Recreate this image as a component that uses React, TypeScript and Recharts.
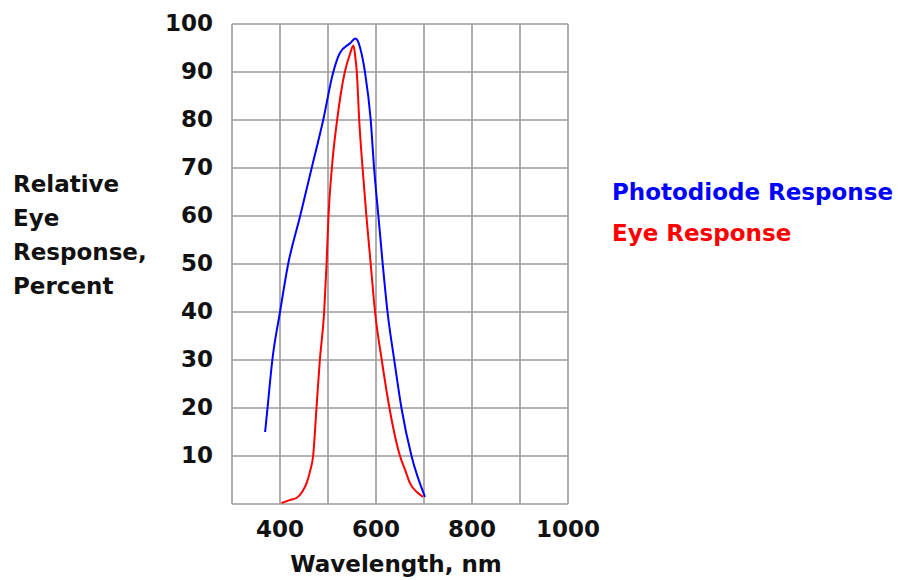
import React from "react";
import { LineChart, Line, XAxis, YAxis, CartesianGrid } from "recharts";

// Wavelength (nm) -> relative response (%)
const photodiodeWl = [369, 374, 384, 400, 417, 442, 466, 490, 511, 525, 546, 557, 562, 567, 577, 589, 596, 605, 614, 624, 638, 653, 674, 702];
const photodiodeVal = [15, 20, 30, 40, 50, 60, 70, 80, 90, 94, 96, 97, 96.5, 95, 90, 80, 70, 60, 50, 40, 30, 20, 10, 1.5];

const eyeWl = [403, 420, 435, 446, 456, 463, 469, 476, 483, 492, 497, 501, 508, 519, 535, 545, 553, 557, 560, 565, 572, 580, 589, 598, 612, 628, 650, 661, 671, 685, 698];
const eyeVal = [0.2, 0.8, 1.3, 2.5, 4.5, 7, 10, 20, 30, 40, 50, 60, 70, 80, 90, 93.5, 95.5, 93, 90, 80, 70, 60, 50, 40, 30, 20, 10, 7, 4.3, 2.5, 1.5];

const xGridTicks = [300, 400, 500, 600, 700, 800, 900, 1000];
const xLabelTicks = [400, 600, 800, 1000];
const yGridTicks = [0, 10, 20, 30, 40, 50, 60, 70, 80, 90, 100];
const yLabelTicks = [10, 20, 30, 40, 50, 60, 70, 80, 90, 100];

const seriesNames = ["Photodiode Response", "Eye Response"];
const seriesColors = ["#0000ff", "#ff0000"];
const yTitleLines = ["Relative", "Eye", "Response,", "Percent"];
const xTitle = "Wavelength, nm";

const photodiodeData = photodiodeWl.map((wl, i) => ({ wl, v: photodiodeVal[i] }));
const eyeData = eyeWl.map((wl, i) => ({ wl, v: eyeVal[i] }));

const FONT = "'DejaVu Sans', 'Liberation Sans', Arial, sans-serif";

const renderXTick = (props: any) => {
  const { x, y, payload } = props;
  if (!xLabelTicks.includes(payload.value)) return <g />;
  return (
    <text x={x} y={y + 33} textAnchor="middle" fontFamily={FONT} fontWeight="bold" fontSize={23} fill="#111">
      {payload.value}
    </text>
  );
};

const renderYTick = (props: any) => {
  const { x, y, payload } = props;
  if (!yLabelTicks.includes(payload.value)) return <g />;
  return (
    <text x={x - 19} y={y + 7} textAnchor="end" fontFamily={FONT} fontWeight="bold" fontSize={23} fill="#111">
      {payload.value}
    </text>
  );
};

export default function App() {
  return (
    <div style={{ position: "absolute", left: 0, top: 0, width: 898, height: 580, background: "#fff" }}>
      <LineChart width={898} height={580} margin={{ top: 24, left: 172, right: 330, bottom: 36 }}>
        <CartesianGrid stroke="#9a9a9a" strokeWidth={1.6} />
        <XAxis
          type="number"
          dataKey="wl"
          domain={[300, 1000]}
          ticks={xGridTicks}
          height={40}
          tickSize={0}
          tickMargin={0}
          axisLine={false}
          tickLine={false}
          tick={renderXTick}
          interval={0}
          allowDataOverflow
        />
        <YAxis
          type="number"
          domain={[0, 100]}
          ticks={yGridTicks}
          width={60}
          tickSize={0}
          tickMargin={0}
          axisLine={false}
          tickLine={false}
          tick={renderYTick}
          interval={0}
          allowDataOverflow
        />
        <Line data={photodiodeData} dataKey="v" type="monotone" stroke={seriesColors[0]} strokeWidth={2} dot={false} isAnimationActive={false} name={seriesNames[0]} />
        <Line data={eyeData} dataKey="v" type="monotone" stroke={seriesColors[1]} strokeWidth={2} dot={false} isAnimationActive={false} name={seriesNames[1]} />
      </LineChart>
      <svg width={898} height={580} style={{ position: "absolute", left: 0, top: 0, pointerEvents: "none" }}>
        {yTitleLines.map((t, i) => (
          <text key={t} x={13} y={192 + i * 34} fontFamily={FONT} fontWeight="bold" fontSize={23} fill="#111">
            {t}
          </text>
        ))}
        <text x={396} y={572} textAnchor="middle" fontFamily={FONT} fontWeight="bold" fontSize={23} fill="#111">
          {xTitle}
        </text>
        {seriesNames.map((n, i) => (
          <text key={n} x={612} y={200 + i * 41} fontFamily={FONT} fontWeight="bold" fontSize={23} fill={seriesColors[i]}>
            {n}
          </text>
        ))}
      </svg>
    </div>
  );
}
